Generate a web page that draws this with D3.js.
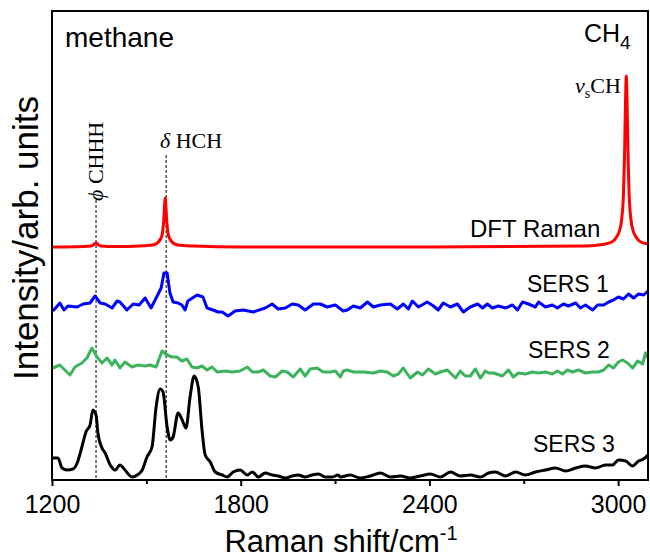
<!DOCTYPE html>
<html>
<head>
<meta charset="utf-8">
<script src="https://cdn.jsdelivr.net/npm/d3@7"></script>
<style>
  body { margin: 0; background: #fff; }
  text { font-family: "Liberation Sans", Arial, sans-serif; }
  .serif { font-family: "Liberation Serif", "Times New Roman", serif; }
</style>
</head>
<body>
<div id="chart"></div>
<script>
// spectra as [Raman shift (cm-1), intensity (a.u., offset for stacking)]
var dft = [[1200,233],[1300,233.5],[1325,234],[1335,236],[1340,237],[1345,236],[1355,234],[1400,233.5],
  [1480,234],[1520,235],[1535,237],[1545,241],[1550,245],[1555,258],[1560,282],[1565,258],[1570,245],
  [1575,241],[1585,237],[1600,235],[1650,234],[1800,233],[2400,233],[2900,234],[2950,235.5],[2980,238],
  [2995,243],[3005,250],[3011,260],[3017,286],[3020,319],[3023,370],[3026,404],[3029,370],[3032,319],
  [3035,286],[3041,260],[3047,250],[3057,243],[3072,238],[3095,236]];

var sers1 = [[1203,169],[1225,177],[1238,170],[1251,174],[1280,173],[1299,176],[1321,177],[1337,184],
  [1353,177],[1369,176],[1391,172],[1407,179],[1416,178],[1438,170],[1458,176],[1477,175],[1496,182],
  [1515,172],[1531,182],[1547,192],[1556,207],[1566,207],[1575,187],[1585,178],[1601,177],[1613,175],
  [1623,170],[1632,179],[1661,185],[1680,183],[1693,172],[1712,170],[1728,168],[1741,168],[1760,164],
  [1782,169],[1808,170],[1840,168],
  [1878,172],[1900,176],[1919,171],[1942,172],[1964,176],[1983,175],[2005,170],[2031,176],[2053,176],
  [2075,173],[2101,175],[2126,169],[2139,170],[2158,174],[2180,172],[2203,178],[2222,173],[2244,175],
  [2276,176],[2298,171],[2317,176],[2333,171],[2346,179],[2365,173],[2393,178],[2413,174],[2428,170],
  [2444,177],[2467,173],[2489,176],[2508,168],[2530,173],[2553,176],[2569,172],[2584,176],[2600,172],
  [2619,174],[2642,172],[2664,175],[2680,170],[2696,178],[2715,176],[2737,173],[2747,178],[2769,173],
  [2791,175],[2807,172],[2826,176],[2842,174],[2865,177],[2880,172],[2896,175],[2919,170],[2935,175],
  [2954,175],[2970,178],[2985,180],[3001,183],[3017,181],[3033,186],[3049,182],[3065,186],[3081,185],[3095,189]];

var sers2 = [[1203,112],[1225,115],[1241,110],[1257,105],[1273,113],[1295,117],[1311,122],[1327,132],
  [1343,123],[1359,117],[1375,122],[1391,115],[1400,120],[1416,112],[1432,118],[1454,113],[1473,115],
  [1496,114],[1512,115],[1531,113],[1550,129],[1566,125],[1582,123],[1597,123],[1613,119],[1629,121],
  [1645,113],[1661,112],[1677,114],[1693,110],[1709,113],[1725,108],
  [1751,109],[1773,108],[1798,109],[1821,113],[1837,108],[1856,108],[1872,110],[1894,104],[1910,103],
  [1932,109],[1948,108],[1967,103],[1989,111],[2005,104],[2021,111],[2043,112],[2062,108],[2085,108],
  [2101,109],[2117,103],[2126,109],[2139,110],[2158,108],[2190,108],[2222,107],[2244,109],[2266,108],
  [2285,104],[2301,106],[2317,112],[2339,102],[2362,108],[2378,105],[2397,111],[2419,106],[2435,108],
  [2457,110],[2483,102],[2498,109],[2514,104],[2530,104],[2546,111],[2562,102],[2578,109],[2588,107],
  [2604,107],[2632,104],[2651,110],[2667,103],[2683,107],[2705,106],[2728,108],[2747,107],[2769,108],
  [2791,106],[2807,109],[2823,106],[2839,110],[2855,108],[2874,110],[2896,107],[2919,108],[2938,108],
  [2954,110],[2970,115],[2985,112],[3001,118],[3014,120],[3030,117],[3046,112],[3062,119],[3078,116],
  [3087,127],[3095,122]];

var sers3 = [[1203,22],[1206,22],[1219,22],[1232,12],[1248,10],[1267,11],[1280,17],[1295,33],[1308,48],
  [1321,55],[1330,70],[1340,65],[1346,47],[1359,32],[1369,27],[1385,15],[1401,10],[1416,15],[1432,10],
  [1455,3],[1471,5],[1487,10],[1502,23],[1518,33],[1531,73],[1544,91],[1553,88],[1566,53],[1576,40],
  [1585,43],[1601,67],[1614,60],[1626,52],[1639,83],[1652,104],[1665,93],[1677,50],[1687,25],[1703,18],
  [1719,8],[1741,5],[1757,3],[1776,8],[1798,10],[1821,5],[1837,8],[1856,3],[1878,7],[1900,5],[1919,4],
  [1942,2],[1964,4],[1983,5],[2005,3],[2027,5],[2047,6],[2069,3],[2091,3],[2110,5],[2117,3],[2148,5],
  [2180,2],[2212,4],[2244,7],[2276,3],[2308,4],[2339,2],[2371,4],[2403,6],[2435,3],[2467,8],[2498,4],
  [2530,5],[2562,3],[2588,7],[2610,8],[2642,4],[2674,8],[2705,5],[2737,8],[2769,10],[2801,12],[2833,9],
  [2865,12],[2896,14],[2928,12],[2960,15],[2982,15],[3001,20],[3024,19],[3046,14],[3065,19],[3081,21],[3095,25]];

var majorTicks = [1200, 1800, 2400, 3000];
var minorTicks = [1500, 2100, 2700];
var peakLines = [1340, 1563];

var W = 650, H = 558;
var mLeft = 52, mRight = 648, mTop = 11, mBottom = 480;

var svg = d3.select("#chart").append("svg").attr("width", W).attr("height", H);

var x = d3.scaleLinear().domain([1200, 3095]).range([mLeft, mRight]);
var y = d3.scaleLinear().domain([0, 469]).range([mBottom, mTop]);

svg.append("clipPath").attr("id", "clip").append("rect")
  .attr("x", mLeft).attr("y", mTop).attr("width", mRight - mLeft).attr("height", mBottom - mTop);

// dashed guides
svg.append("line").attr("x1", x(peakLines[0])).attr("x2", x(peakLines[0])).attr("y1", 200).attr("y2", mBottom)
  .attr("stroke", "#000").attr("stroke-width", 1).attr("stroke-dasharray", "3,2");
svg.append("line").attr("x1", x(peakLines[1])).attr("x2", x(peakLines[1])).attr("y1", 155).attr("y2", mBottom)
  .attr("stroke", "#000").attr("stroke-width", 1).attr("stroke-dasharray", "3,2");

var line = d3.line().x(function(d){ return x(d[0]); }).y(function(d){ return y(d[1]); });
var smooth = d3.line().curve(d3.curveMonotoneX).x(function(d){ return x(d[0]); }).y(function(d){ return y(d[1]); });
var g = svg.append("g").attr("clip-path", "url(#clip)");
g.append("path").datum(sers3).attr("d", smooth).attr("fill", "none").attr("stroke", "#000").attr("stroke-width", 3).attr("stroke-linejoin", "round");
g.append("path").datum(sers2).attr("d", line).attr("fill", "none").attr("stroke", "#3cb35c").attr("stroke-width", 3).attr("stroke-linejoin", "round");
g.append("path").datum(sers1).attr("d", line).attr("fill", "none").attr("stroke", "#0000ff").attr("stroke-width", 3).attr("stroke-linejoin", "round");
g.append("path").datum(dft).attr("d", smooth).attr("fill", "none").attr("stroke", "#ff0000").attr("stroke-width", 3);

// frame
svg.append("rect").attr("x", mLeft).attr("y", mTop).attr("width", mRight - mLeft).attr("height", mBottom - mTop)
  .attr("fill", "none").attr("stroke", "#000").attr("stroke-width", 2);

// x axis
var xAxis = d3.axisBottom(x).tickValues(majorTicks).tickSize(6).tickFormat(d3.format("d"));
var ax = svg.append("g").attr("transform", "translate(0," + mBottom + ")").call(xAxis);
ax.select(".domain").remove();
ax.selectAll(".tick line").attr("stroke-width", 2);
ax.selectAll(".tick text").attr("font-size", 25).attr("font-family", "Liberation Sans, Arial, sans-serif").attr("dy", "0.95em").attr("fill", "#000");
var axm = svg.append("g").attr("transform", "translate(0," + mBottom + ")")
  .call(d3.axisBottom(x).tickValues(minorTicks).tickSize(4).tickFormat(""));
axm.select(".domain").remove();
axm.selectAll(".tick line").attr("stroke-width", 2);

// axis titles
var xt = svg.append("text").attr("x", 341).attr("y", 552).attr("text-anchor", "middle").attr("font-size", 31);
xt.append("tspan").text("Raman shift/cm");
xt.append("tspan").attr("font-size", 20).attr("dy", -12).text("-1");

svg.append("text").attr("transform", "translate(38,238) rotate(-90)").attr("text-anchor", "middle")
  .attr("font-size", 35).text("Intensity/arb. units");

// labels
svg.append("text").attr("x", 65).attr("y", 47).attr("font-size", 28).text("methane");
var ch4 = svg.append("text").attr("x", 584).attr("y", 42).attr("font-size", 25);
ch4.append("tspan").text("CH");
ch4.append("tspan").attr("font-size", 19).attr("dy", 7).text("4");

svg.append("text").attr("x", 470).attr("y", 237).attr("font-size", 24).text("DFT Raman");
svg.append("text").attr("x", 527).attr("y", 292).attr("font-size", 23).text("SERS 1");
svg.append("text").attr("x", 528).attr("y", 358).attr("font-size", 23).text("SERS 2");
svg.append("text").attr("x", 533).attr("y", 452).attr("font-size", 23).text("SERS 3");

var phi = svg.append("text").attr("class", "serif").attr("transform", "translate(103,201) rotate(-90)").attr("font-size", 22);
phi.append("tspan").attr("font-style", "italic").text("\u03d5");
phi.append("tspan").text(" CHHH");

var del = svg.append("text").attr("class", "serif").attr("x", 160).attr("y", 148).attr("font-size", 22);
del.append("tspan").attr("font-style", "italic").text("\u03b4");
del.append("tspan").text(" HCH");

var nu = svg.append("text").attr("class", "serif").attr("x", 575).attr("y", 93).attr("font-size", 22);
nu.append("tspan").attr("font-style", "italic").text("\u03bd");
nu.append("tspan").attr("font-size", 14).attr("dy", 5).text("s");
nu.append("tspan").attr("dy", -5).text("CH");
</script>
</body>
</html>
